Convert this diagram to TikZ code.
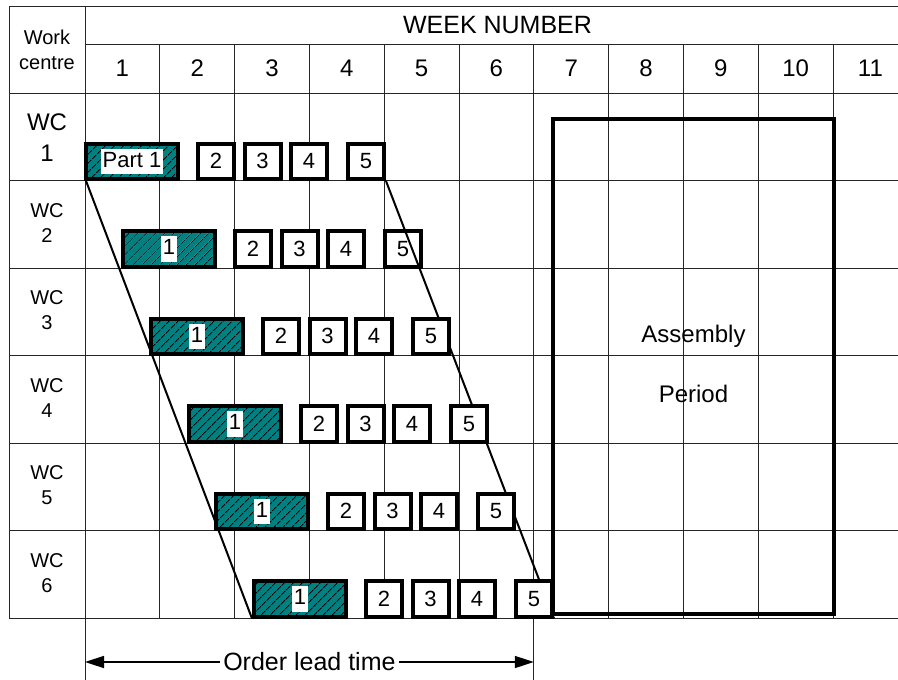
\documentclass[tikz,border=0pt]{standalone}
\usepackage{fontspec}
\setmainfont{Liberation Sans}
\usetikzlibrary{patterns.meta,arrows.meta}
\definecolor{tealc}{RGB}{0,128,128}
\pgfdeclarelayer{gridl}
\pgfdeclarelayer{lowl}
\pgfdeclarelayer{midl}
\pgfsetlayers{gridl,lowl,midl,main}
\newcommand\drawwcrow[2]{%
  \pgfmathsetmacro\yc{93+87.5*#1-19.25}%
  \node[partbox] (p#1) at ({#2+48},\yc) {};
  \node[plabel] (l#1) at (p#1.center) {\ifnum#1=1 Part 1\else 1\fi};
  \node[smallbox] (b#1x2) at ({#2+132},\yc) {2};
  \node[smallbox] (b#1x3) at ({#2+178.5},\yc) {3};
  \node[smallbox] (b#1x4) at ({#2+225},\yc) {4};
  \node[smallbox] (b#1x5) at ({#2+282},\yc) {5};
}
\begin{document}
\begin{tikzpicture}[x=1pt,y=-1pt,
  gridline/.style={line width=1pt, draw=black!85},
  smallbox/.style={draw, line width=4pt, fill=white, minimum width=36pt,
    minimum height=35.5pt, inner sep=0pt, font=\fontsize{22}{26}\selectfont},
  partbox/.style={draw, line width=4pt, preaction={fill=tealc},
    pattern={Lines[angle=45,distance=6.5pt,line width=1pt]}, pattern color=black,
    minimum width=92pt, minimum height=35.5pt, inner sep=0pt},
  plabel/.style={fill=white, inner xsep=1.5pt, inner ysep=1.5pt, text height=17pt,
    text depth=5.5pt, font=\fontsize{22}{26}\selectfont},
  slant/.style={line width=2pt},
  hdr/.style={font=\fontsize{24}{28}\selectfont},
  wclab/.style={align=center, font=\fontsize{20}{25}\selectfont},
]
\useasboundingbox (0,0) rectangle (898,680);

\begin{pgfonlayer}{gridl}
  % horizontal lines
  \draw[gridline] (9,6) -- (898,6);
  \draw[gridline] (85,44) -- (898,44);
  \foreach \i in {0,...,6} {
    \draw[gridline] (9,{93+87.5*\i}) -- (898,{93+87.5*\i});
  }
  % vertical lines
  \draw[gridline] (9,6) -- (9,618);
  \draw[gridline] (85,6) -- (85,680);
  \foreach \k in {1,...,10} {
    \draw[gridline] ({85+74.8*\k},44) -- ({85+74.8*\k},618);
  }
  \draw[gridline] ({85+74.8*6},618) -- ({85+74.8*6},680);
\end{pgfonlayer}

% header texts
\node[align=center, font=\fontsize{20}{25}\selectfont] (wch) at (47,50) {Work\\centre};
\node[font=\fontsize{25}{30}\selectfont] (wkn) at (497.5,25) {WEEK NUMBER};
\foreach \k in {1,...,11} {
  \node[hdr] (h\k) at ({85+74.8*(\k-0.5)},68.5) {\k};
}

% work centre labels
\node[align=center, font=\fontsize{24}{31}\selectfont] (wc1) at (47,137.5) {WC\\1};
\foreach \r in {2,...,6} {
  \node[wclab] (wc\r) at (47,{93+87.5*(\r-1)+42.5}) {WC\\\r};
}

% assembly period
\draw[line width=4pt] (553,119) rectangle (834,614);
\node[align=center, font=\fontsize{24}{60}\selectfont] (asm) at (693.5,364) {Assembly\\Period};

% rows 1-2 below slanted lines
\begin{pgfonlayer}{lowl}
  \drawwcrow{1}{84}
  \drawwcrow{2}{121}
\end{pgfonlayer}

% rows 3-6 above slanted lines
\drawwcrow{3}{149}
\drawwcrow{4}{187}
\drawwcrow{5}{214}
\drawwcrow{6}{252}

\begin{pgfonlayer}{midl}
  \draw[slant] (p1.south west) -- (p6.south west);
  \draw[slant] (b1x5.south east) -- (b6x5.south east);
\end{pgfonlayer}

% order lead time
\coordinate (olA) at (85,662);
\coordinate (olB) at ({85+74.8*6},662);
\draw[line width=1.5pt, {Triangle[length=19pt,width=12pt]}-{Triangle[length=19pt,width=12pt]}]
  (olA) -- (olB) node[midway, fill=white, inner xsep=3pt, inner ysep=0pt,
  font=\fontsize{25}{30}\selectfont] (olt) {Order lead time};
\end{tikzpicture}
\end{document}
